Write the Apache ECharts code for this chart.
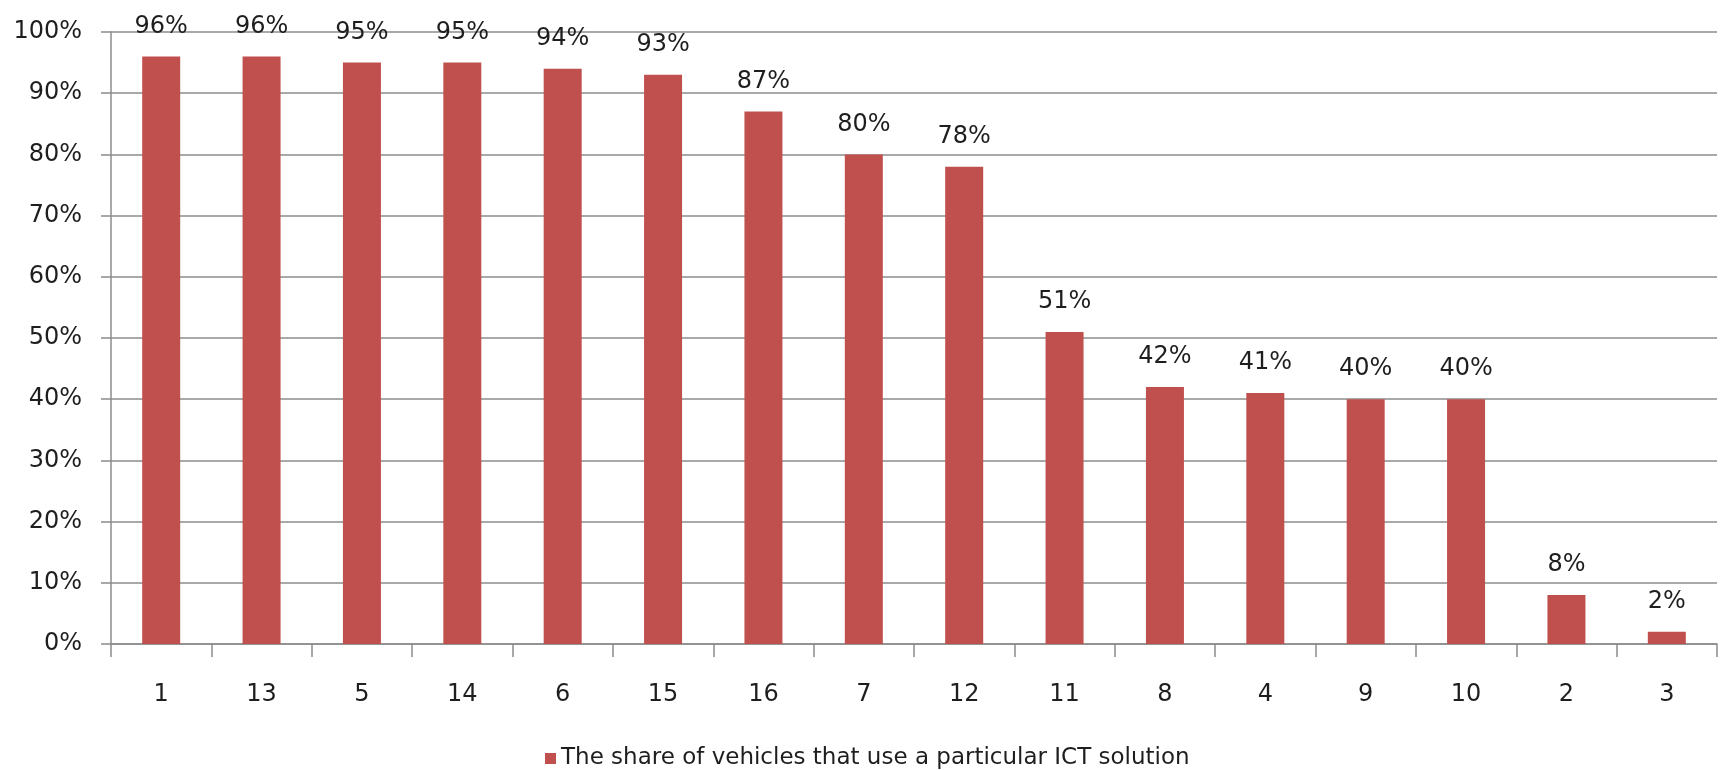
<!DOCTYPE html>
<html>
<head>
<meta charset="utf-8">
<script src="https://cdn.jsdelivr.net/npm/echarts@6/dist/echarts.min.js"></script>
<style>
  html, body { margin: 0; padding: 0; background: #ffffff; }
  #chart { width: 1723px; height: 770px; }
</style>
</head>
<body>
<div id="chart"></div>
<script>
// ICT solution numbers, ordered by share of vehicles
const categories = ['1', '13', '5', '14', '6', '15', '16', '7', '12', '11', '8', '4', '9', '10', '2', '3'];
// Share of vehicles using each solution, in percent
const shares = [96, 96, 95, 95, 94, 93, 87, 80, 78, 51, 42, 41, 40, 40, 8, 2];
const seriesName = 'The share of vehicles that use a particular ICT solution';
const yTicks = { min: 0, max: 100, interval: 10 };

const FONT = 'DejaVu Sans';
const TEXT = '#1e1e1e';
const GRID = '#8c8c8c';

const chart = echarts.init(document.getElementById('chart'), null, { renderer: 'canvas' });
chart.setOption({
  backgroundColor: '#ffffff',
  animation: false,
  textStyle: { fontFamily: FONT },
  grid: { left: 111, right: 6, top: 32, bottom: 126, containLabel: false },
  legend: {
    data: [seriesName],
    left: 540,
    top: 742,
    icon: 'rect',
    itemWidth: 11,
    itemHeight: 11,
    itemGap: 10,
    textStyle: { fontFamily: FONT, fontSize: 23, color: TEXT }
  },
  xAxis: {
    type: 'category',
    data: categories,
    boundaryGap: true,
    axisLine: { lineStyle: { color: GRID, width: 1.5 } },
    axisTick: { show: true, length: 13, lineStyle: { color: GRID, width: 1.5 } },
    axisLabel: { fontFamily: FONT, fontSize: 24, color: TEXT, margin: 39 }
  },
  yAxis: {
    type: 'value',
    min: yTicks.min,
    max: yTicks.max,
    interval: yTicks.interval,
    axisLine: { show: true, lineStyle: { color: GRID, width: 1.5 } },
    axisTick: { show: true, length: 10, lineStyle: { color: GRID, width: 1.5 } },
    axisLabel: {
      fontFamily: FONT, fontSize: 24, color: TEXT, margin: 29,
      verticalAlign: 'middle',
      padding: [7, 0, 0, 0],
      formatter: '{value}%'
    },
    splitLine: { show: true, lineStyle: { color: GRID, width: 1.5 } }
  },
  series: [{
    name: seriesName,
    type: 'bar',
    data: shares,
    barWidth: 38,
    itemStyle: { color: '#C0504D' },
    label: {
      show: true,
      position: 'top',
      distance: 18,
      fontFamily: FONT,
      fontSize: 24,
      color: TEXT,
      formatter: p => p.value + '%'
    }
  }]
});
</script>
</body>
</html>
